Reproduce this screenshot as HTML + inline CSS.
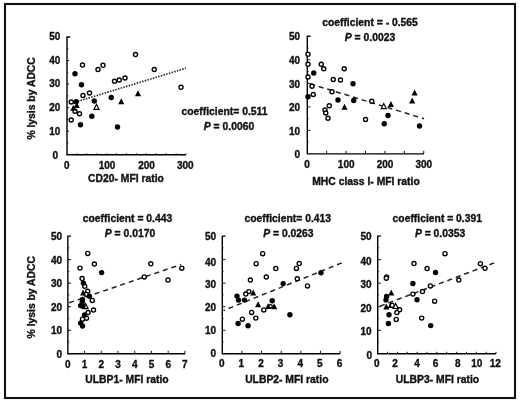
<!DOCTYPE html>
<html lang="en">
<head>
<meta charset="utf-8">
<title>Figure</title>
<style>
html,body{margin:0;padding:0;background:#fff;}
body{width:520px;height:402px;overflow:hidden;}
svg{display:block;filter:blur(0.35px);}
text{font-family:"Liberation Sans",Arial,Helvetica,sans-serif;font-weight:bold;fill:#111;stroke:#111;stroke-width:0.35px;}
.t{font-size:10.0px;}
.h{font-size:10.35px;}
.ax{stroke:#000;stroke-width:1.4;fill:none;}
.tk{stroke:#111;stroke-width:1;fill:none;}
</style>
</head>
<body>
<svg width="520" height="402" viewBox="0 0 520 402">
<rect x="0" y="0" width="520" height="402" fill="#fff"/>
<rect x="5" y="4" width="510" height="394" fill="none" stroke="#111" stroke-width="2.1"/>

<g>
<path class="ax" d="M70.2,37.0 H67.0 V154.7 H186"/>
<path class="tk" d="M67.0,60.54 h2.0"/>
<path class="tk" d="M67.0,84.08 h2.0"/>
<path class="tk" d="M67.0,107.62 h2.0"/>
<path class="tk" d="M67.0,131.16 h2.0"/>
<path class="tk" d="M67.0,48.77 h1.5" opacity="0.7"/>
<path class="tk" d="M67.0,72.31 h1.5" opacity="0.7"/>
<path class="tk" d="M67.0,95.85 h1.5" opacity="0.7"/>
<path class="tk" d="M67.0,119.39 h1.5" opacity="0.7"/>
<path class="tk" d="M67.0,142.93 h1.5" opacity="0.7"/>
<path class="tk" d="M76.92,154.7 v-1.3"/>
<path class="tk" d="M86.84,154.7 v-1.3"/>
<path class="tk" d="M96.76,154.7 v-1.3"/>
<path class="tk" d="M106.68,154.7 v-1.3"/>
<path class="tk" d="M116.60,154.7 v-1.3"/>
<path class="tk" d="M126.52,154.7 v-1.3"/>
<path class="tk" d="M136.44,154.7 v-1.3"/>
<path class="tk" d="M146.36,154.7 v-1.3"/>
<path class="tk" d="M156.28,154.7 v-1.3"/>
<path class="tk" d="M166.20,154.7 v-1.3"/>
<path class="tk" d="M176.12,154.7 v-1.3"/>
<path class="tk" d="M186.04,154.7 v-1.3"/>
<text class="t" x="60.30" y="39.60" text-anchor="end">50</text>
<text class="t" x="60.30" y="64.14" text-anchor="end">40</text>
<text class="t" x="60.30" y="87.38" text-anchor="end">30</text>
<text class="t" x="60.30" y="111.22" text-anchor="end">20</text>
<text class="t" x="60.30" y="134.76" text-anchor="end">10</text>
<text class="t" x="58.00" y="158.60" text-anchor="end">0</text>
<text class="t" x="66.80" y="168.9" text-anchor="middle">0</text>
<text class="t" x="107.00" y="168.9" text-anchor="middle">100</text>
<text class="t" x="146.60" y="168.9" text-anchor="middle">200</text>
<text class="t" x="185.30" y="168.9" text-anchor="middle">300</text>
<text class="h" x="126" y="182" text-anchor="middle">CD20- MFI ratio</text>
<text class="h" transform="translate(35,98.4) rotate(-90)" text-anchor="middle">% lysis by ADCC</text>
<text class="h" x="224.5" y="114.8" text-anchor="middle">coefficient= 0.511</text>
<text class="h" x="229" y="130.0" text-anchor="middle"><tspan font-style="italic">P</tspan> = 0.0060</text>
<line x1="72.5" y1="103.0" x2="186" y2="68.2" stroke="#222" stroke-width="1.7" stroke-dasharray="1.45 1.35" stroke-dashoffset="0"/>
<circle cx="135.5" cy="54.5" r="2.05" fill="#fff" stroke="#000" stroke-width="1.35"/>
<circle cx="154.25" cy="69.5" r="2.05" fill="#fff" stroke="#000" stroke-width="1.35"/>
<circle cx="82.5" cy="65" r="2.05" fill="#fff" stroke="#000" stroke-width="1.35"/>
<circle cx="98" cy="69.5" r="2.05" fill="#fff" stroke="#000" stroke-width="1.35"/>
<circle cx="103" cy="65.25" r="2.05" fill="#fff" stroke="#000" stroke-width="1.35"/>
<circle cx="114.5" cy="81.25" r="2.05" fill="#fff" stroke="#000" stroke-width="1.35"/>
<circle cx="119.25" cy="80" r="2.05" fill="#fff" stroke="#000" stroke-width="1.35"/>
<circle cx="125" cy="78" r="2.05" fill="#fff" stroke="#000" stroke-width="1.35"/>
<circle cx="83" cy="95.5" r="2.05" fill="#fff" stroke="#000" stroke-width="1.35"/>
<circle cx="89.5" cy="93" r="2.05" fill="#fff" stroke="#000" stroke-width="1.35"/>
<circle cx="71.25" cy="102" r="2.05" fill="#fff" stroke="#000" stroke-width="1.35"/>
<circle cx="75" cy="111.25" r="2.05" fill="#fff" stroke="#000" stroke-width="1.35"/>
<circle cx="79.5" cy="113.75" r="2.05" fill="#fff" stroke="#000" stroke-width="1.35"/>
<circle cx="71.2" cy="120" r="2.05" fill="#fff" stroke="#000" stroke-width="1.35"/>
<circle cx="181" cy="87.3" r="2.05" fill="#fff" stroke="#000" stroke-width="1.35"/>
<polygon points="94.00,109.30 99.00,109.30 96.50,104.30" fill="#fff" stroke="#000" stroke-width="1.2"/>
<circle cx="75.0" cy="73.8" r="2.7" fill="#000"/>
<circle cx="81.5" cy="84.8" r="2.7" fill="#000"/>
<circle cx="76.25" cy="101.75" r="2.7" fill="#000"/>
<circle cx="94.25" cy="101" r="2.7" fill="#000"/>
<circle cx="111.25" cy="97.5" r="2.7" fill="#000"/>
<circle cx="91.8" cy="116.25" r="2.7" fill="#000"/>
<circle cx="80.5" cy="124.7" r="2.7" fill="#000"/>
<circle cx="117.5" cy="127" r="2.7" fill="#000"/>
<polygon points="70.35,110.80 76.45,110.80 73.40,104.80" fill="#000"/>
<polygon points="73.65,107.90 79.75,107.90 76.70,101.90" fill="#000"/>
<polygon points="118.20,104.35 124.30,104.35 121.25,98.35" fill="#000"/>
<polygon points="134.95,96.35 141.05,96.35 138.00,90.35" fill="#000"/>
</g>
<g>
<path class="ax" d="M310.5,36.3 H307.3 V153.85 H424"/>
<path class="tk" d="M307.3,59.81 h3.0"/>
<path class="tk" d="M307.3,83.32 h3.0"/>
<path class="tk" d="M307.3,106.83 h3.0"/>
<path class="tk" d="M307.3,130.34 h3.0"/>
<path class="tk" d="M307.3,48.05 h1.5" opacity="0.7"/>
<path class="tk" d="M307.3,71.56 h1.5" opacity="0.7"/>
<path class="tk" d="M307.3,95.07 h1.5" opacity="0.7"/>
<path class="tk" d="M307.3,118.58 h1.5" opacity="0.7"/>
<path class="tk" d="M307.3,142.09 h1.5" opacity="0.7"/>
<path class="tk" d="M326.62,153.85 v-3.0"/>
<path class="tk" d="M346.04,153.85 v-3.0"/>
<path class="tk" d="M365.46,153.85 v-3.0"/>
<path class="tk" d="M384.88,153.85 v-3.0"/>
<path class="tk" d="M404.30,153.85 v-3.0"/>
<path class="tk" d="M423.72,153.85 v-3.0"/>
<text class="t" style="font-size:10.0px" x="300.00" y="40.20" text-anchor="end">50</text>
<text class="t" style="font-size:10.0px" x="300.00" y="64.31" text-anchor="end">40</text>
<text class="t" style="font-size:10.0px" x="300.00" y="87.62" text-anchor="end">30</text>
<text class="t" style="font-size:10.0px" x="300.00" y="111.23" text-anchor="end">20</text>
<text class="t" style="font-size:10.0px" x="300.00" y="134.54" text-anchor="end">10</text>
<text class="t" style="font-size:10.0px" x="300.00" y="157.85" text-anchor="end">0</text>
<text class="t" x="307.00" y="168" text-anchor="middle">0</text>
<text class="t" x="346.20" y="168" text-anchor="middle">100</text>
<text class="t" x="385.10" y="168" text-anchor="middle">200</text>
<text class="t" x="423.80" y="168" text-anchor="middle">300</text>
<text class="h" x="366" y="184.5" text-anchor="middle">MHC class I- MFI ratio</text>
<text class="h" x="370" y="25.8" text-anchor="middle">coefficient = - 0.565</text>
<text class="h" x="370" y="40.5" text-anchor="middle"><tspan font-style="italic">P</tspan> = 0.0023</text>
<line x1="310" y1="83.8" x2="424" y2="118.7" stroke="#222" stroke-width="1.5" stroke-dasharray="5.1 3.9" stroke-dashoffset="0"/>
<circle cx="308" cy="54.25" r="2.05" fill="#fff" stroke="#000" stroke-width="1.35"/>
<circle cx="308" cy="64.25" r="2.05" fill="#fff" stroke="#000" stroke-width="1.35"/>
<circle cx="308" cy="77" r="2.05" fill="#fff" stroke="#000" stroke-width="1.35"/>
<circle cx="312" cy="86.25" r="2.05" fill="#fff" stroke="#000" stroke-width="1.35"/>
<circle cx="313.25" cy="94.5" r="2.05" fill="#fff" stroke="#000" stroke-width="1.35"/>
<circle cx="321.25" cy="64.25" r="2.05" fill="#fff" stroke="#000" stroke-width="1.35"/>
<circle cx="323.75" cy="68.75" r="2.05" fill="#fff" stroke="#000" stroke-width="1.35"/>
<circle cx="344.25" cy="68.75" r="2.05" fill="#fff" stroke="#000" stroke-width="1.35"/>
<circle cx="333.25" cy="79.5" r="2.05" fill="#fff" stroke="#000" stroke-width="1.35"/>
<circle cx="340.5" cy="80" r="2.05" fill="#fff" stroke="#000" stroke-width="1.35"/>
<circle cx="332" cy="91.75" r="2.05" fill="#fff" stroke="#000" stroke-width="1.35"/>
<circle cx="329.25" cy="105.75" r="2.05" fill="#fff" stroke="#000" stroke-width="1.35"/>
<circle cx="325" cy="110" r="2.05" fill="#fff" stroke="#000" stroke-width="1.35"/>
<circle cx="325.75" cy="113" r="2.05" fill="#fff" stroke="#000" stroke-width="1.35"/>
<circle cx="328" cy="118.25" r="2.05" fill="#fff" stroke="#000" stroke-width="1.35"/>
<circle cx="371.75" cy="101.25" r="2.05" fill="#fff" stroke="#000" stroke-width="1.35"/>
<circle cx="365.5" cy="119.5" r="2.05" fill="#fff" stroke="#000" stroke-width="1.35"/>
<polygon points="381.25,108.55 386.25,108.55 383.75,103.55" fill="#fff" stroke="#000" stroke-width="1.2"/>
<circle cx="313.75" cy="73" r="2.7" fill="#000"/>
<circle cx="308" cy="96.75" r="2.7" fill="#000"/>
<circle cx="353" cy="83.75" r="2.7" fill="#000"/>
<circle cx="338" cy="100" r="2.7" fill="#000"/>
<circle cx="353.75" cy="100.5" r="2.7" fill="#000"/>
<circle cx="388" cy="115.5" r="2.7" fill="#000"/>
<circle cx="384.25" cy="123.75" r="2.7" fill="#000"/>
<circle cx="419.5" cy="126" r="2.7" fill="#000"/>
<polygon points="341.45,109.85 347.55,109.85 344.50,103.85" fill="#000"/>
<polygon points="387.85,107.00 393.95,107.00 390.90,101.00" fill="#000"/>
<polygon points="411.55,95.50 417.65,95.50 414.60,89.50" fill="#000"/>
<polygon points="409.15,103.50 415.25,103.50 412.20,97.50" fill="#000"/>
</g>
<g>
<path class="ax" d="M71.05,236.1 H67.85 V353.8 H185"/>
<path class="tk" d="M67.85,259.64 h3.2"/>
<path class="tk" d="M67.85,283.18 h3.2"/>
<path class="tk" d="M67.85,306.72 h3.2"/>
<path class="tk" d="M67.85,330.26 h3.2"/>
<path class="tk" d="M67.85,247.87 h1.5" opacity="0.7"/>
<path class="tk" d="M67.85,271.41 h1.5" opacity="0.7"/>
<path class="tk" d="M67.85,294.95 h1.5" opacity="0.7"/>
<path class="tk" d="M67.85,318.49 h1.5" opacity="0.7"/>
<path class="tk" d="M67.85,342.03 h1.5" opacity="0.7"/>
<path class="tk" d="M84.57,353.8 v-3.0"/>
<path class="tk" d="M101.29,353.8 v-3.0"/>
<path class="tk" d="M118.01,353.8 v-3.0"/>
<path class="tk" d="M134.73,353.8 v-3.0"/>
<path class="tk" d="M151.45,353.8 v-3.0"/>
<path class="tk" d="M168.17,353.8 v-3.0"/>
<path class="tk" d="M184.89,353.8 v-3.0"/>
<text class="t" x="62.00" y="239.90" text-anchor="end">50</text>
<text class="t" x="62.00" y="264.14" text-anchor="end">40</text>
<text class="t" x="62.00" y="286.78" text-anchor="end">30</text>
<text class="t" x="62.00" y="310.92" text-anchor="end">20</text>
<text class="t" x="62.00" y="334.06" text-anchor="end">10</text>
<text class="t" x="62.00" y="357.90" text-anchor="end">0</text>
<text class="t" x="67.85" y="367.5" text-anchor="middle">0</text>
<text class="t" x="84.57" y="367.5" text-anchor="middle">1</text>
<text class="t" x="101.29" y="367.5" text-anchor="middle">2</text>
<text class="t" x="118.01" y="367.5" text-anchor="middle">3</text>
<text class="t" x="134.73" y="367.5" text-anchor="middle">4</text>
<text class="t" x="151.45" y="367.5" text-anchor="middle">5</text>
<text class="t" x="168.17" y="367.5" text-anchor="middle">6</text>
<text class="t" x="184.89" y="367.5" text-anchor="middle">7</text>
<text class="h" x="127" y="382.5" text-anchor="middle">ULBP1- MFI ratio</text>
<text class="h" transform="translate(35,297.2) rotate(-90)" text-anchor="middle">% lysis by ADCC</text>
<text class="h" x="127.5" y="222" text-anchor="middle">coefficient = 0.443</text>
<text class="h" x="130" y="236.8" text-anchor="middle"><tspan font-style="italic">P</tspan> = 0.0170</text>
<line x1="68" y1="303.2" x2="181" y2="264.5" stroke="#222" stroke-width="1.5" stroke-dasharray="5.1 3.9" stroke-dashoffset="7.8"/>
<circle cx="87.75" cy="253.4" r="2.05" fill="#fff" stroke="#000" stroke-width="1.35"/>
<circle cx="94.4" cy="264" r="2.05" fill="#fff" stroke="#000" stroke-width="1.35"/>
<circle cx="80" cy="268.1" r="2.05" fill="#fff" stroke="#000" stroke-width="1.35"/>
<circle cx="82.1" cy="278.5" r="2.05" fill="#fff" stroke="#000" stroke-width="1.35"/>
<circle cx="84.75" cy="286.25" r="2.05" fill="#fff" stroke="#000" stroke-width="1.35"/>
<circle cx="87.75" cy="291.25" r="2.05" fill="#fff" stroke="#000" stroke-width="1.35"/>
<circle cx="86.25" cy="294.4" r="2.05" fill="#fff" stroke="#000" stroke-width="1.35"/>
<circle cx="92.25" cy="300.4" r="2.05" fill="#fff" stroke="#000" stroke-width="1.35"/>
<circle cx="93.5" cy="310" r="2.05" fill="#fff" stroke="#000" stroke-width="1.35"/>
<circle cx="88.1" cy="312.5" r="2.05" fill="#fff" stroke="#000" stroke-width="1.35"/>
<circle cx="86.5" cy="318.2" r="2.05" fill="#fff" stroke="#000" stroke-width="1.35"/>
<circle cx="82.5" cy="319.2" r="2.05" fill="#fff" stroke="#000" stroke-width="1.35"/>
<circle cx="150.8" cy="263.8" r="2.05" fill="#fff" stroke="#000" stroke-width="1.35"/>
<circle cx="144.3" cy="276.9" r="2.05" fill="#fff" stroke="#000" stroke-width="1.35"/>
<circle cx="168" cy="280" r="2.05" fill="#fff" stroke="#000" stroke-width="1.35"/>
<circle cx="181.8" cy="268.2" r="2.05" fill="#fff" stroke="#000" stroke-width="1.35"/>
<polygon points="83.10,308.55 88.10,308.55 85.60,303.55" fill="#fff" stroke="#000" stroke-width="1.2"/>
<circle cx="101.6" cy="272.6" r="2.7" fill="#000"/>
<circle cx="83.4" cy="283.1" r="2.7" fill="#000"/>
<circle cx="89.4" cy="296.25" r="2.7" fill="#000"/>
<circle cx="82.5" cy="299.4" r="2.7" fill="#000"/>
<circle cx="82.25" cy="301.9" r="2.7" fill="#000"/>
<circle cx="80.6" cy="305.6" r="2.7" fill="#000"/>
<circle cx="82.9" cy="306.25" r="2.7" fill="#000"/>
<circle cx="84.5" cy="315" r="2.7" fill="#000"/>
<circle cx="80.6" cy="323.1" r="2.7" fill="#000"/>
<circle cx="82.5" cy="326" r="2.7" fill="#000"/>
<polygon points="80.05,295.60 86.15,295.60 83.10,289.60" fill="#000"/>
</g>
<g>
<path class="ax" d="M225.5,236.1 H222.3 V353.8 H340"/>
<path class="tk" d="M222.3,259.64 h3.2"/>
<path class="tk" d="M222.3,283.18 h3.2"/>
<path class="tk" d="M222.3,306.72 h3.2"/>
<path class="tk" d="M222.3,330.26 h3.2"/>
<path class="tk" d="M222.3,247.87 h1.5" opacity="0.7"/>
<path class="tk" d="M222.3,271.41 h1.5" opacity="0.7"/>
<path class="tk" d="M222.3,294.95 h1.5" opacity="0.7"/>
<path class="tk" d="M222.3,318.49 h1.5" opacity="0.7"/>
<path class="tk" d="M222.3,342.03 h1.5" opacity="0.7"/>
<path class="tk" d="M241.93,353.8 v-3.0"/>
<path class="tk" d="M261.56,353.8 v-3.0"/>
<path class="tk" d="M281.19,353.8 v-3.0"/>
<path class="tk" d="M300.82,353.8 v-3.0"/>
<path class="tk" d="M320.45,353.8 v-3.0"/>
<path class="tk" d="M340.08,353.8 v-3.0"/>
<text class="t" x="216.00" y="239.70" text-anchor="end">50</text>
<text class="t" x="216.00" y="265.54" text-anchor="end">40</text>
<text class="t" x="216.00" y="287.88" text-anchor="end">30</text>
<text class="t" x="216.00" y="311.22" text-anchor="end">20</text>
<text class="t" x="216.00" y="333.86" text-anchor="end">10</text>
<text class="t" x="216.00" y="357.20" text-anchor="end">0</text>
<text class="t" x="221.70" y="367.3" text-anchor="middle">0</text>
<text class="t" x="241.33" y="367.3" text-anchor="middle">1</text>
<text class="t" x="260.96" y="367.3" text-anchor="middle">2</text>
<text class="t" x="280.59" y="367.3" text-anchor="middle">3</text>
<text class="t" x="300.22" y="367.3" text-anchor="middle">4</text>
<text class="t" x="319.85" y="367.3" text-anchor="middle">5</text>
<text class="t" x="339.48" y="367.3" text-anchor="middle">6</text>
<text class="h" x="286.8" y="383.1" text-anchor="middle">ULBP2- MFI ratio</text>
<text class="h" x="287.8" y="222" text-anchor="middle">coefficient= 0.413</text>
<text class="h" x="288.4" y="237.3" text-anchor="middle"><tspan font-style="italic">P</tspan> = 0.0263</text>
<line x1="223.5" y1="310.5" x2="341.8" y2="262.9" stroke="#222" stroke-width="1.5" stroke-dasharray="5.1 3.9" stroke-dashoffset="3.6"/>
<polygon points="265.15,309.00 271.25,309.00 268.20,303.00" fill="#000"/>
<circle cx="262.7" cy="253.7" r="2.05" fill="#fff" stroke="#000" stroke-width="1.35"/>
<circle cx="256.2" cy="263.7" r="2.05" fill="#fff" stroke="#000" stroke-width="1.35"/>
<circle cx="275.8" cy="268.5" r="2.05" fill="#fff" stroke="#000" stroke-width="1.35"/>
<circle cx="296.4" cy="268.4" r="2.05" fill="#fff" stroke="#000" stroke-width="1.35"/>
<circle cx="299.2" cy="263.5" r="2.05" fill="#fff" stroke="#000" stroke-width="1.35"/>
<circle cx="266.3" cy="277" r="2.05" fill="#fff" stroke="#000" stroke-width="1.35"/>
<circle cx="250.4" cy="280" r="2.05" fill="#fff" stroke="#000" stroke-width="1.35"/>
<circle cx="297.3" cy="278.8" r="2.05" fill="#fff" stroke="#000" stroke-width="1.35"/>
<circle cx="307.5" cy="285.9" r="2.05" fill="#fff" stroke="#000" stroke-width="1.35"/>
<circle cx="248.8" cy="291.6" r="2.05" fill="#fff" stroke="#000" stroke-width="1.35"/>
<circle cx="245.8" cy="294" r="2.05" fill="#fff" stroke="#000" stroke-width="1.35"/>
<circle cx="263.8" cy="309.9" r="2.05" fill="#fff" stroke="#000" stroke-width="1.35"/>
<circle cx="251.6" cy="312.4" r="2.05" fill="#fff" stroke="#000" stroke-width="1.35"/>
<circle cx="255.8" cy="318.1" r="2.05" fill="#fff" stroke="#000" stroke-width="1.35"/>
<circle cx="242.4" cy="319.2" r="2.05" fill="#fff" stroke="#000" stroke-width="1.35"/>
<circle cx="270.6" cy="306.3" r="1.7" fill="#fff" stroke="#000" stroke-width="1.3"/>
<circle cx="321" cy="272.7" r="2.7" fill="#000"/>
<circle cx="283.2" cy="283.6" r="2.7" fill="#000"/>
<circle cx="237" cy="296.1" r="2.7" fill="#000"/>
<circle cx="238.5" cy="300.1" r="2.7" fill="#000"/>
<circle cx="244.5" cy="300.1" r="2.7" fill="#000"/>
<circle cx="272.2" cy="300.7" r="2.7" fill="#000"/>
<circle cx="289.9" cy="314.7" r="2.7" fill="#000"/>
<circle cx="238.1" cy="323.5" r="2.7" fill="#000"/>
<circle cx="248.1" cy="325.8" r="2.7" fill="#000"/>
<polygon points="250.15,295.60 256.25,295.60 253.20,289.60" fill="#000"/>
<polygon points="255.05,307.30 261.15,307.30 258.10,301.30" fill="#000"/>
<polygon points="271.15,309.30 277.25,309.30 274.20,303.30" fill="#000"/>
</g>
<g>
<path class="ax" d="M380.9,236.1 H377.7 V353.8 H496"/>
<path class="tk" d="M377.7,259.64 h3.2"/>
<path class="tk" d="M377.7,283.18 h3.2"/>
<path class="tk" d="M377.7,306.72 h3.2"/>
<path class="tk" d="M377.7,330.26 h3.2"/>
<path class="tk" d="M377.7,247.87 h1.5" opacity="0.7"/>
<path class="tk" d="M377.7,271.41 h1.5" opacity="0.7"/>
<path class="tk" d="M377.7,294.95 h1.5" opacity="0.7"/>
<path class="tk" d="M377.7,318.49 h1.5" opacity="0.7"/>
<path class="tk" d="M377.7,342.03 h1.5" opacity="0.7"/>
<path class="tk" d="M387.56,353.8 v-2.0"/>
<path class="tk" d="M397.42,353.8 v-2.0"/>
<path class="tk" d="M407.28,353.8 v-2.0"/>
<path class="tk" d="M417.14,353.8 v-2.0"/>
<path class="tk" d="M427.00,353.8 v-2.0"/>
<path class="tk" d="M436.86,353.8 v-2.0"/>
<path class="tk" d="M446.72,353.8 v-2.0"/>
<path class="tk" d="M456.58,353.8 v-2.0"/>
<path class="tk" d="M466.44,353.8 v-2.0"/>
<path class="tk" d="M476.30,353.8 v-2.0"/>
<path class="tk" d="M486.16,353.8 v-2.0"/>
<path class="tk" d="M496.02,353.8 v-2.0"/>
<text class="t" x="371.50" y="240.00" text-anchor="end">50</text>
<text class="t" x="371.50" y="264.54" text-anchor="end">40</text>
<text class="t" x="371.50" y="287.88" text-anchor="end">30</text>
<text class="t" x="371.50" y="311.92" text-anchor="end">20</text>
<text class="t" x="371.50" y="335.06" text-anchor="end">10</text>
<text class="t" x="372.00" y="359.00" text-anchor="end">0</text>
<text class="t" x="376.70" y="367.2" text-anchor="middle">0</text>
<text class="t" x="395.05" y="367.2" text-anchor="middle">2</text>
<text class="t" x="417.00" y="367.2" text-anchor="middle">4</text>
<text class="t" x="435.45" y="367.2" text-anchor="middle">6</text>
<text class="t" x="457.80" y="367.2" text-anchor="middle">8</text>
<text class="t" x="476.75" y="367.2" text-anchor="middle">10</text>
<text class="t" x="495.20" y="367.2" text-anchor="middle">12</text>
<text class="h" x="437.5" y="383.1" text-anchor="middle">ULBP3- MFI ratio</text>
<text class="h" x="437.3" y="222" text-anchor="middle">coefficient = 0.391</text>
<text class="h" x="440.1" y="237.3" text-anchor="middle"><tspan font-style="italic">P</tspan> = 0.0353</text>
<line x1="380" y1="306.2" x2="495.8" y2="262.3" stroke="#222" stroke-width="1.5" stroke-dasharray="5.1 3.9" stroke-dashoffset="0"/>
<polygon points="387.65,308.00 393.75,308.00 390.70,302.00" fill="#000"/>
<circle cx="445" cy="253.7" r="2.05" fill="#fff" stroke="#000" stroke-width="1.35"/>
<circle cx="414" cy="263.5" r="2.05" fill="#fff" stroke="#000" stroke-width="1.35"/>
<circle cx="427.1" cy="268.5" r="2.05" fill="#fff" stroke="#000" stroke-width="1.35"/>
<circle cx="480.4" cy="263.7" r="2.05" fill="#fff" stroke="#000" stroke-width="1.35"/>
<circle cx="485" cy="268.3" r="2.05" fill="#fff" stroke="#000" stroke-width="1.35"/>
<circle cx="386.6" cy="276.9" r="2.05" fill="#fff" stroke="#000" stroke-width="1.35"/>
<circle cx="386.3" cy="278.2" r="2.05" fill="#fff" stroke="#000" stroke-width="1.35"/>
<circle cx="458.8" cy="280" r="2.05" fill="#fff" stroke="#000" stroke-width="1.35"/>
<circle cx="430.4" cy="285.9" r="2.05" fill="#fff" stroke="#000" stroke-width="1.35"/>
<circle cx="422.5" cy="291.5" r="2.05" fill="#fff" stroke="#000" stroke-width="1.35"/>
<circle cx="412.9" cy="294.1" r="2.05" fill="#fff" stroke="#000" stroke-width="1.35"/>
<circle cx="434.6" cy="301.2" r="2.05" fill="#fff" stroke="#000" stroke-width="1.35"/>
<circle cx="392.25" cy="305.4" r="2.05" fill="#fff" stroke="#000" stroke-width="1.35"/>
<circle cx="399.6" cy="309.8" r="2.05" fill="#fff" stroke="#000" stroke-width="1.35"/>
<circle cx="396.9" cy="312.5" r="2.05" fill="#fff" stroke="#000" stroke-width="1.35"/>
<circle cx="421.7" cy="318.1" r="2.05" fill="#fff" stroke="#000" stroke-width="1.35"/>
<circle cx="396.2" cy="319.4" r="2.05" fill="#fff" stroke="#000" stroke-width="1.35"/>
<polygon points="393.10,308.50 398.10,308.50 395.60,303.50" fill="#fff" stroke="#000" stroke-width="1.2"/>
<circle cx="435.5" cy="272.5" r="2.7" fill="#000"/>
<circle cx="412.9" cy="283.5" r="2.7" fill="#000"/>
<circle cx="417" cy="299.7" r="2.7" fill="#000"/>
<circle cx="386.6" cy="296.5" r="2.7" fill="#000"/>
<circle cx="386" cy="299.9" r="2.7" fill="#000"/>
<circle cx="389" cy="314.7" r="2.7" fill="#000"/>
<circle cx="388.4" cy="323.5" r="2.7" fill="#000"/>
<circle cx="430.7" cy="325.6" r="2.7" fill="#000"/>
<polygon points="388.20,295.50 394.30,295.50 391.25,289.50" fill="#000"/>
<polygon points="383.25,309.40 389.35,309.40 386.30,303.40" fill="#000"/>
</g>
</svg>
</body>
</html>
